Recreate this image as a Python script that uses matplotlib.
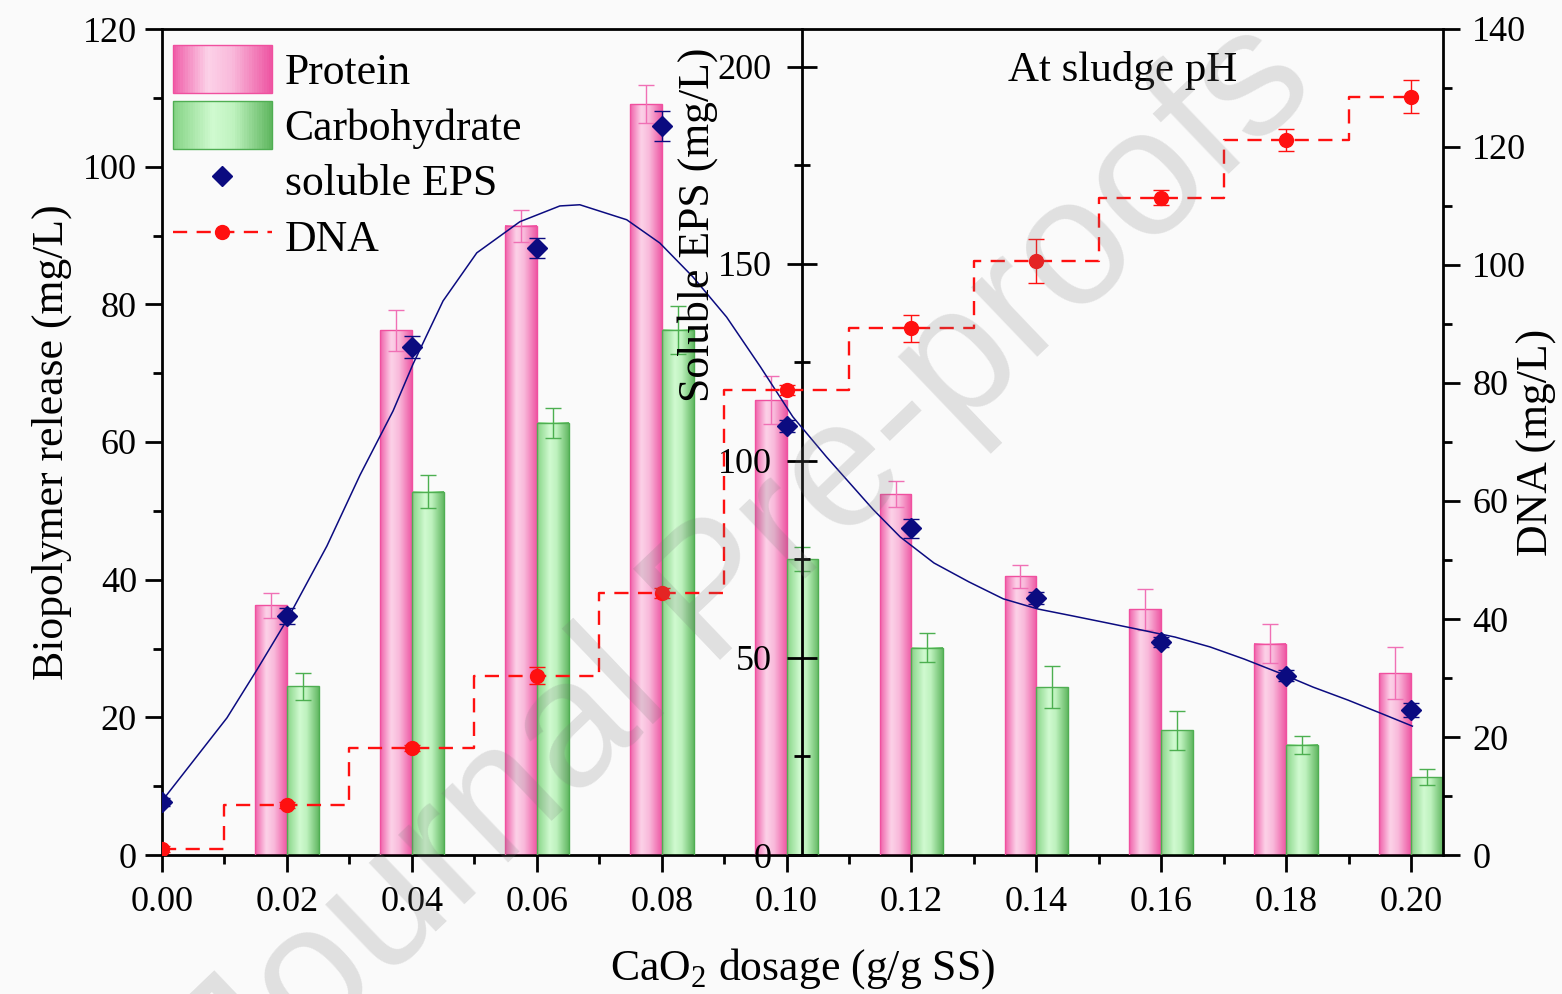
import numpy as np
import matplotlib
matplotlib.use("Agg")
import matplotlib.pyplot as plt
from matplotlib.colors import LinearSegmentedColormap
from matplotlib.legend_handler import HandlerBase
from matplotlib.patches import Rectangle
from matplotlib.lines import Line2D
from matplotlib.ticker import MultipleLocator, FormatStrFormatter

plt.rcParams['font.family'] = ['Liberation Serif', 'DejaVu Serif']
plt.rcParams['mathtext.fontset'] = 'custom'
plt.rcParams['mathtext.rm'] = 'Liberation Serif'

# ---- data ----
dosage = np.array([0.00, 0.02, 0.04, 0.06, 0.08, 0.10, 0.12, 0.14, 0.16, 0.18, 0.20])
bar_dosage = dosage[1:]
protein = np.array([36.3, 76.2, 91.4, 109.1, 66.1, 52.4, 40.5, 35.7, 30.7, 26.4])
protein_err = np.array([1.8, 3.0, 2.3, 2.7, 3.5, 1.9, 1.7, 3.0, 2.8, 3.8])
carbohydrate = np.array([24.5, 52.8, 62.8, 76.3, 43.0, 30.1, 24.4, 18.1, 16.0, 11.3])
carbohydrate_err = np.array([2.0, 2.4, 2.2, 3.5, 1.7, 2.1, 3.0, 2.8, 1.3, 1.2])

eps = np.array([13.4, 60.6, 128.8, 154.0, 185.0, 108.9, 82.9, 65.2, 54.1, 45.5, 36.8])
eps_err = np.array([1.0, 2.0, 2.8, 2.5, 3.7, 1.5, 2.4, 1.5, 1.2, 1.4, 1.8])

dna = np.array([1.0, 8.4, 18.2, 30.4, 44.4, 78.8, 89.3, 100.7, 111.4, 121.2, 128.5])
dna_err = np.array([0.5, 0.5, 0.5, 1.4, 0.8, 0.9, 2.3, 3.7, 1.3, 1.8, 2.8])

# smooth fitted curve for soluble EPS
fit_x = [0.0000, 0.0104, 0.0152, 0.0201, 0.0264, 0.0317, 0.0370, 0.0402, 0.0450,
         0.0504, 0.0573, 0.0637, 0.0669, 0.0744, 0.0797, 0.0850, 0.0904, 0.0958,
         0.1010, 0.1064, 0.1139, 0.1182, 0.1236, 0.1292, 0.1347, 0.1403, 0.1457,
         0.1513, 0.1568, 0.1622, 0.1678, 0.1733, 0.1789, 0.1843, 0.1899, 0.1954, 0.2002]
fit_y = [13.7, 34.8, 47.0, 59.9, 78.4, 96.4, 112.7, 124.6, 140.6,
         152.8, 160.7, 164.7, 165.0, 161.2, 155.3, 146.7, 136.5, 123.9,
         111.2, 101.0, 87.6, 80.7, 74.1, 69.3, 65.0, 62.4, 60.7,
         58.9, 57.1, 55.3, 52.8, 49.7, 46.2, 42.6, 39.3, 35.8, 32.7]

# ---- styles ----
pink_cm = LinearSegmentedColormap.from_list(
    'pinkbar', [(0, '#F060AA'), (0.35, '#FCD2E8'), (0.6, '#F9BADB'), (1, '#EE58A4')])
green_cm = LinearSegmentedColormap.from_list(
    'greenbar', [(0, '#86D486'), (0.4, '#D0FAD0'), (0.62, '#BEF2BE'), (1, '#62B862')])
pink_edge = '#F0509F'
green_edge = '#4FAE52'
navy = '#0B0B80'
red = '#FF1010'
bw = 0.0051


class GradientHandler(HandlerBase):
    def __init__(self, cmap, edge):
        super().__init__()
        self.cmap = cmap
        self.edge = edge

    def create_artists(self, legend, orig_handle, xdescent, ydescent,
                       width, height, fontsize, trans):
        arts = []
        n = 40
        for i in range(n):
            arts.append(Rectangle((-xdescent + width * i / n, -ydescent),
                                  width / n * 1.05, height,
                                  facecolor=self.cmap(i / (n - 1)),
                                  edgecolor='none', transform=trans))
        arts.append(Rectangle((-xdescent, -ydescent), width, height,
                              facecolor='none', edgecolor=self.edge,
                              lw=1, transform=trans))
        return arts


fig = plt.figure(figsize=(15.62, 9.94), dpi=100, facecolor='#FAFAFA')
ax = fig.add_axes([162 / 1562, 1 - 855 / 994, 1281 / 1562, 826 / 994])
ax.set_facecolor('#FAFAFA')

# bars with gradient fill
pbars = ax.bar(bar_dosage - bw / 2, protein, bw, facecolor='none',
               edgecolor=pink_edge, lw=1, zorder=3)
cbars = ax.bar(bar_dosage + bw / 2, carbohydrate, bw, facecolor='none',
               edgecolor=green_edge, lw=1, zorder=3)
grad = np.linspace(0, 1, 128).reshape(1, -1)
for bars, cm in ((pbars, pink_cm), (cbars, green_cm)):
    for r in bars:
        x0, w, h = r.get_x(), r.get_width(), r.get_height()
        ax.imshow(grad, cmap=cm, extent=[x0, x0 + w, 0, h], aspect='auto',
                  interpolation='bicubic', zorder=2)

ax.errorbar(bar_dosage - bw / 2, protein, yerr=protein_err, fmt='none',
            ecolor='#F070B5', elinewidth=1, capsize=6, capthick=1, zorder=4)
ax.errorbar(bar_dosage + bw / 2, carbohydrate, yerr=carbohydrate_err, fmt='none',
            ecolor='#4CAF50', elinewidth=1, capsize=6, capthick=1, zorder=4)

ax.set_xlim(0, 0.2051)
ax.set_ylim(0, 120)
ax.set_aspect('auto')
ax.xaxis.set_major_locator(MultipleLocator(0.02))
ax.xaxis.set_minor_locator(MultipleLocator(0.01))
ax.xaxis.set_major_formatter(FormatStrFormatter('%.2f'))
ax.yaxis.set_major_locator(MultipleLocator(20))
ax.yaxis.set_minor_locator(MultipleLocator(10))
ax.tick_params(axis='both', which='major', direction='out', length=12, width=2,
               labelsize=26)
ax.tick_params(axis='both', which='minor', direction='out', length=6.5, width=2)
ax.tick_params(axis='x', which='major', pad=10)
ax.tick_params(axis='y', which='both', right=False)
ax.tick_params(axis='y', which='major', pad=6)
for s in ax.spines.values():
    s.set_linewidth(2)
ax.spines['right'].set_visible(False)
ax.set_xlabel('CaO$_2$ dosage (g/g SS)', fontsize=31.5, labelpad=20)
ax.set_ylabel('Biopolymer release (mg/L)', fontsize=31.5, labelpad=8)

# soluble EPS on the middle axis
ax_eps = ax.twinx()
for s in ('top', 'bottom', 'right'):
    ax_eps.spines[s].set_visible(False)
ax_eps.spines['left'].set_visible(True)
ax_eps.spines['left'].set_position(('axes', 0.5))
ax_eps.spines['left'].set_linewidth(2)
ax_eps.yaxis.set_ticks_position('left')
ax_eps.yaxis.set_label_position('left')
ax_eps.plot(fit_x, fit_y, color=navy, lw=1.1, zorder=3)
ax_eps.errorbar(dosage, eps, yerr=eps_err, fmt='D', color=navy, ms=10,
                ecolor=navy, elinewidth=1, capsize=6, capthick=1, zorder=5)
ax_eps.set_ylim(0, 209.6)
ax_eps.yaxis.set_major_locator(MultipleLocator(50))
ax_eps.yaxis.set_minor_locator(MultipleLocator(25))
ax_eps.tick_params(axis='y', which='major', direction='inout', length=22, width=2,
                   labelsize=26, pad=11)
ax_eps.tick_params(axis='y', which='minor', direction='inout', length=12, width=2)
ax_eps.text(0.418, 0.763, 'Soluble EPS (mg/L)', transform=ax_eps.transAxes,
            rotation=90, ha='center', va='center', fontsize=31.5)

# DNA on the right axis
ax_dna = ax.twinx()
for s in ('top', 'bottom', 'left'):
    ax_dna.spines[s].set_visible(False)
ax_dna.spines['right'].set_linewidth(2)
ax_dna.plot(dosage, dna, drawstyle='steps-mid', color=red, lw=1.7,
            dashes=(6, 4), zorder=3)
ax_dna.errorbar(dosage, dna, yerr=dna_err, fmt='o', color=red, ms=10,
                ecolor=red, elinewidth=1, capsize=6, capthick=1, zorder=5)
ax_dna.set_ylim(0, 140)
ax_dna.yaxis.set_major_locator(MultipleLocator(20))
ax_dna.yaxis.set_minor_locator(MultipleLocator(10))
ax_dna.tick_params(axis='y', which='major', direction='out', length=12, width=2,
                   labelsize=26, pad=9)
ax_dna.tick_params(axis='y', which='minor', direction='out', length=6.5, width=2)
ax_dna.text(1.0734, 0.5, 'DNA (mg/L)', transform=ax_dna.transAxes,
            rotation=90, ha='center', va='center', fontsize=31.5)

ax_dna.text(0.75, 0.950, 'At sludge pH', transform=ax_dna.transAxes,
            ha='center', va='center', fontsize=31)

# legend
h_prot = Rectangle((0, 0), 1, 1)
h_carb = Rectangle((0, 0), 1, 1)
h_eps = Line2D([], [], ls='none', marker='D', color=navy, ms=10)
h_dna = Line2D([], [], color=red, lw=1.7, dashes=(6, 4), marker='o', ms=10)
ax_dna.legend([h_prot, h_carb, h_eps, h_dna],
              ['Protein', 'Carbohydrate', 'soluble EPS', 'DNA'],
              handler_map={h_prot: GradientHandler(pink_cm, pink_edge),
                           h_carb: GradientHandler(green_cm, green_edge)},
              loc='upper left', bbox_to_anchor=(-0.004, 1.0), frameon=False,
              fontsize=31.5, handlelength=2.25, handleheight=1.32,
              labelspacing=0.17, handletextpad=0.3, borderpad=0.25,
              borderaxespad=0.12)

# watermark
fig.text(0.48, 0.43, 'Journal Pre-proofs', rotation=43.7, rotation_mode='anchor',
         ha='center', va='center', fontsize=130, color='#7A7A7A', alpha=0.2,
         family='Liberation Sans', zorder=20)

fig.savefig('out.png', dpi=100, facecolor=fig.get_facecolor())
